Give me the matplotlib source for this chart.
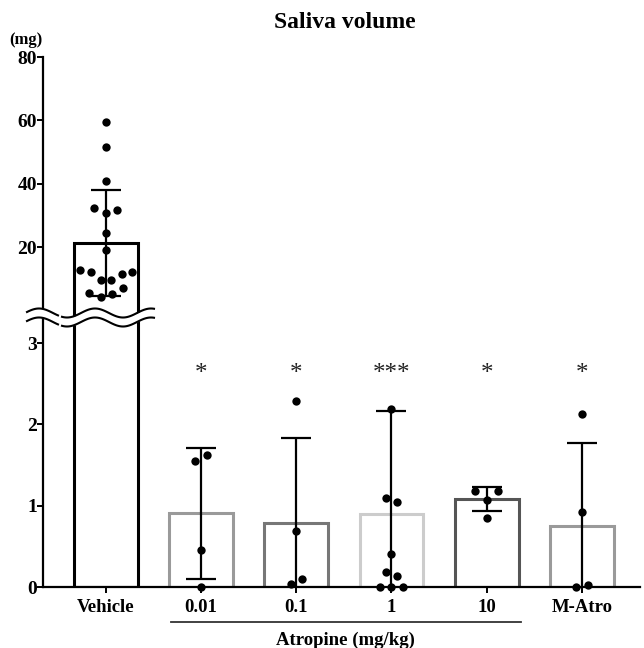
import numpy as np
import matplotlib
matplotlib.use('Agg')
import matplotlib.pyplot as plt
import matplotlib.transforms as mtransforms

plt.rcParams['font.family'] = 'Liberation Serif'
plt.rcParams['font.weight'] = 'bold'

# данные
groups = ['Vehicle', '0.01', '0.1', '1', '10', 'M-Atro']
means = [21.15, 0.906, 0.79, 0.898, 1.08, 0.754]
sds = [16.75, 0.81, 1.04, 1.27, 0.15, 1.02]
signif = ['', '*', '*', '***', '*', '*']

points = [
    [59.6, 51.5, 41.0, 32.2, 30.6, 31.7, 24.3, 19.2, 12.7, 12.0, 9.5, 9.5,
     11.5, 12.1, 7.2, 5.5, 4.2, 5.3],
    [1.55, 1.62, 0.45, 0.0],
    [2.29, 0.69, 0.04, 0.10],
    [2.19, 1.09, 1.04, 0.41, 0.18, 0.14, 0.0, 0.0, 0.0],
    [1.18, 1.18, 1.07, 0.85],
    [2.13, 0.92, 0.0, 0.02],
]
jitter = [
    [0, 0, 0, -0.12, 0, 0.12, 0, 0, -0.27, -0.16, -0.05, 0.05,
     0.17, 0.27, 0.18, -0.175, -0.055, 0.065],
    [-0.06, 0.06, 0, 0],
    [0, 0, -0.06, 0.06],
    [0, -0.06, 0.06, 0, -0.06, 0.06, -0.12, 0, 0.12],
    [-0.12, 0.12, 0, 0],
    [0, 0, -0.06, 0.06],
]
edge_colors = ['black', '#9a9a9a', '#777777', '#cccccc', '#555555', '#9a9a9a']

fig = plt.figure(figsize=(6.44, 6.48), dpi=100)
left, width = 43 / 644, 597 / 644
ax_bot = fig.add_axes([left, 61 / 648, width, 269 / 648])
ax_top = fig.add_axes([left, 330 / 648, width, 261 / 648])

x = np.arange(len(groups))
xlim = (-0.66, 5.61)

for ax in (ax_top, ax_bot):
    ax.set_xlim(*xlim)
    ax.spines['top'].set_visible(False)
    ax.spines['right'].set_visible(False)
    ax.spines['left'].set_linewidth(1.6)
    ax.spines['bottom'].set_linewidth(1.6)
    ax.tick_params(axis='y', direction='out', length=4, width=1.4, labelsize=14, pad=0.5)
    ax.patch.set_alpha(0)

ax_top.set_ylim(-2.4, 80)
ax_top.set_yticks([20, 40, 60, 80])
ax_top.spines['bottom'].set_visible(False)
ax_top.set_xticks([])

ax_bot.set_ylim(0, 3.31)
ax_bot.set_yticks([0, 1, 2, 3])
ax_bot.set_xticks(x)
ax_bot.set_xticklabels(groups)
ax_bot.tick_params(axis='x', direction='out', length=4, width=1.4, labelsize=13.5, pad=5)

# столбцы
ax_bot.bar(x, means, width=0.67, facecolor='none', edgecolor=edge_colors, linewidth=2.2, zorder=2)
ax_top.bar(x[:1], means[0] + 10, bottom=-10, width=0.67, facecolor='none',
           edgecolor=edge_colors[0], linewidth=2.2, zorder=2)

# погрешности
ax_top.errorbar(x[:1], means[:1], yerr=sds[:1], fmt='none', ecolor='black',
                elinewidth=1.6, capsize=11, capthick=1.6, zorder=3)
ax_bot.errorbar(x[1:], means[1:], yerr=sds[1:], fmt='none', ecolor='black',
                elinewidth=1.6, capsize=11, capthick=1.6, zorder=3)

# точки
for i, (vals, jit) in enumerate(zip(points, jitter)):
    ax = ax_top if i == 0 else ax_bot
    ax.scatter(x[i] + np.array(jit), vals, s=36, color='black', zorder=4, clip_on=False,
               linewidths=0)

# звёздочки
for i, s in enumerate(signif):
    if s:
        ax_bot.text(x[i], 2.62, s, ha='center', va='center', fontsize=18, fontweight='normal',
                    color='#222222')

# линия Atropine
trans = mtransforms.blended_transform_factory(ax_bot.transData, ax_bot.transAxes)
ax_bot.plot([0.68, 4.36], [-0.13, -0.13], color='#333333', lw=1.3, transform=trans, clip_on=False)
ax_bot.text(2.52, -0.197, 'Atropine (mg/kg)', transform=trans, ha='center', va='center', fontsize=13.5)

fig.text(0.536, 0.966, 'Saliva volume', ha='center', va='center', fontsize=17)
fig.text(0.04, 0.938, '(mg)', ha='center', va='center', fontsize=12)

# разрыв оси
ov = fig.add_axes([0, 0, 1, 1], zorder=10)
ov.set_xlim(0, 644)
ov.set_ylim(648, 0)
ov.axis('off')
for xs in (np.linspace(27, 58, 60), np.linspace(62, 154, 120)):
    y1 = 313 - 4.5 * np.cos(2 * np.pi * (xs - 95) / 56)
    y2 = y1 + 9
    ov.fill_between(xs, y1, y2, color='white', lw=0)
    ov.plot(xs, y1, color='black', lw=1.5)
    ov.plot(xs, y2, color='black', lw=1.5)

fig.savefig('out.png', dpi=100)
